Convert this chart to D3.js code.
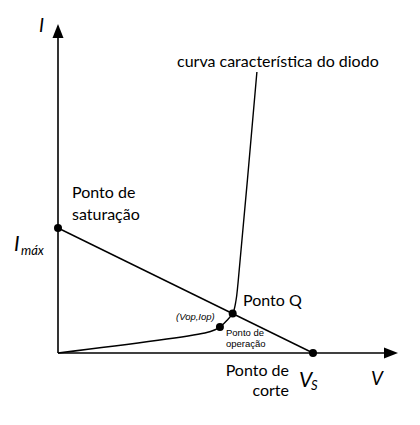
<!DOCTYPE html>
<html><head><meta charset="utf-8">
<script src="https://cdn.jsdelivr.net/npm/d3@7"></script>
<style>body{margin:0;background:#fff}svg{display:block}</style>
</head><body>
<script>
// Data (arbitrary units: V in volts-like units, I in current units)
const Vs = 10;
const Imax = 5;
const loadLine = [[0, Imax], [Vs, 0]];
const diodeV = [0, 5.76, 6.16, 6.4, 6.62, 6.86, 6.98, 7.06, 7.8];
const diodeI = [0, 0.8, 0.93, 1.08, 1.3, 1.6, 2.1, 2.8, 11.24];
const qPoint = [6.85, 1.58];
const opPoint = [6.35, 1.04];
const satPoint = [0, Imax];
const cutPoint = [Vs, 0];

const W = 420, H = 425;
const svg = d3.select("body").append("svg").attr("width", W).attr("height", H);
const x = d3.scaleLinear().domain([0, Vs]).range([58, 313]);
const y = d3.scaleLinear().domain([0, Imax]).range([353, 228]);
const font = "Lato, 'Open Sans', sans-serif";

// axes
svg.append("line").attr("x1", x(0)).attr("y1", y(0)).attr("x2", x(0)).attr("y2", 36)
  .attr("stroke", "#000").attr("stroke-width", 1.6);
svg.append("path").attr("d", `M${x(0)},24 L${x(0)-5.5},38 L${x(0)+5.5},38 Z`).attr("fill", "#000");
svg.append("line").attr("x1", x(0)).attr("y1", y(0)).attr("x2", 385).attr("y2", y(0))
  .attr("stroke", "#000").attr("stroke-width", 1.6);
svg.append("path").attr("d", `M398,${y(0)} L384,${y(0)-5.5} L384,${y(0)+5.5} Z`).attr("fill", "#000");

// load line
const line = d3.line().x(d => x(d[0])).y(d => y(d[1]));
svg.append("path").attr("d", line(loadLine)).attr("fill", "none").attr("stroke", "#000").attr("stroke-width", 1.4);

// diode curve
const diode = diodeV.map((v, i) => [v, diodeI[i]]);
svg.append("path").attr("d", line.curve(d3.curveCatmullRom.alpha(0.5))(diode))
  .attr("fill", "none").attr("stroke", "#000").attr("stroke-width", 1.4);

// points
[satPoint, cutPoint, qPoint, opPoint].forEach(p => {
  svg.append("circle").attr("cx", x(p[0])).attr("cy", y(p[1])).attr("r", 4).attr("fill", "#000");
});

function txt(t, xx, yy, size, opts = {}) {
  return svg.append("text").attr("x", xx).attr("y", yy).attr("font-size", size)
    .attr("font-family", opts.family || font).attr("font-style", opts.style || "normal")
    .attr("text-anchor", opts.anchor || "start").attr("fill", "#000").text(t);
}

// labels
txt("I", 39, 32, 19, {style: "italic"});
txt("V", 371, 385, 19, {style: "italic"});
txt("curva característica do diodo", 177, 67, 16);
txt("Ponto de", 72, 198, 16);
txt("saturação", 72, 220, 16);
txt("I", 14, 251, 21, {style: "italic"});
txt("máx", 21, 255, 13, {style: "italic"});
txt("Ponto Q", 243, 306, 16);
txt("(Vop,Iop)", 176, 320, 9.5, {family: "'Liberation Sans', Arial, sans-serif", style: "italic"});
txt("Ponto de", 226, 336, 9.5, {family: "'Liberation Sans', Arial, sans-serif"});
txt("operação", 226, 347, 9.5, {family: "'Liberation Sans', Arial, sans-serif"});
txt("Ponto de", 289, 376, 16, {anchor: "end"});
txt("corte", 289, 396, 16, {anchor: "end"});
txt("V", 299, 387, 21, {style: "italic"});
txt("S", 311, 390, 13, {style: "italic"});
</script>
</body></html>
